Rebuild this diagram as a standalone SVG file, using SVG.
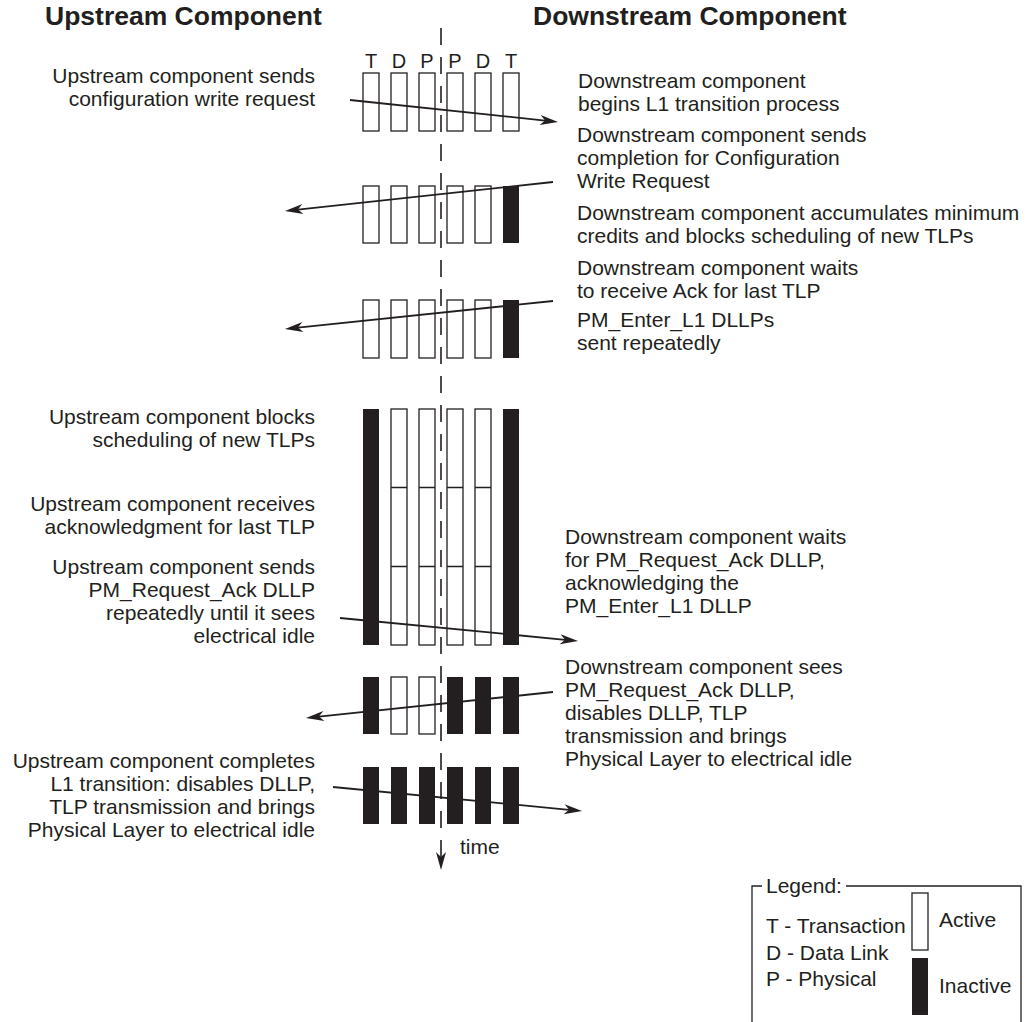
<svg xmlns="http://www.w3.org/2000/svg" width="1029" height="1022" viewBox="0 0 1029 1022">
<style>
text{font-family:"Liberation Sans",Arial,Helvetica,sans-serif;fill:#231f20;font-size:21px}
.title{font-weight:bold;font-size:26.5px}
.end{text-anchor:end}
.mid{text-anchor:middle}
.lbl{font-size:20px}
.act{fill:#fff;stroke:#231f20;stroke-width:1.3}
.ina{fill:#231f20;stroke:none}
.div{stroke:#231f20;stroke-width:1.3}
.conn{fill:none;stroke:#231f20;stroke-width:1.8}
.axis{fill:none;stroke:#231f20;stroke-width:1.6;stroke-dasharray:17 12}
.leg{fill:none;stroke:#231f20;stroke-width:1.3}
</style>
<defs>
<marker id="ah" markerUnits="userSpaceOnUse" markerWidth="20" markerHeight="12" viewBox="0 -6 20 12" refX="5" refY="0" orient="auto" overflow="visible">
<path d="M0,-5 L18,0 L0,5 L5,0 Z" fill="#231f20"/>
</marker>
</defs>
<rect width="1029" height="1022" fill="#fff"/>

<g id="titles">
<text class="title" x="45" y="25">Upstream Component</text>
<text class="title" x="533" y="25">Downstream Component</text>
</g>

<g id="layer-labels">
<text class="lbl mid" x="371" y="68">T</text>
<text class="lbl mid" x="399" y="68">D</text>
<text class="lbl mid" x="427" y="68">P</text>
<text class="lbl mid" x="455" y="68">P</text>
<text class="lbl mid" x="483" y="68">D</text>
<text class="lbl mid" x="511" y="68">T</text>
</g>

<g id="row1">
<rect class="act" x="363" y="73" width="16" height="58"/>
<rect class="act" x="391" y="73" width="16" height="58"/>
<rect class="act" x="419" y="73" width="16" height="58"/>
<rect class="act" x="447" y="73" width="16" height="58"/>
<rect class="act" x="475" y="73" width="16" height="58"/>
<rect class="act" x="503" y="73" width="16" height="58"/>
</g>

<g id="row2">
<rect class="act" x="363" y="186" width="16" height="57"/>
<rect class="act" x="391" y="186" width="16" height="57"/>
<rect class="act" x="419" y="186" width="16" height="57"/>
<rect class="act" x="447" y="186" width="16" height="57"/>
<rect class="act" x="475" y="186" width="16" height="57"/>
<rect class="ina" x="503" y="186" width="16" height="57"/>
</g>

<g id="row3">
<rect class="act" x="363" y="300" width="16" height="58"/>
<rect class="act" x="391" y="300" width="16" height="58"/>
<rect class="act" x="419" y="300" width="16" height="58"/>
<rect class="act" x="447" y="300" width="16" height="58"/>
<rect class="act" x="475" y="300" width="16" height="58"/>
<rect class="ina" x="503" y="300" width="16" height="58"/>
</g>

<g id="row4">
<rect class="ina" x="363" y="409" width="16" height="236"/>
<rect class="act" x="391" y="409" width="16" height="236"/>
<rect class="act" x="419" y="409" width="16" height="236"/>
<rect class="act" x="447" y="409" width="16" height="236"/>
<rect class="act" x="475" y="409" width="16" height="236"/>
<rect class="ina" x="503" y="409" width="16" height="236"/>
<path class="div" d="M391,487.5H407M419,487.5H435M447,487.5H463M475,487.5H491M391,566.5H407M419,566.5H435M447,566.5H463M475,566.5H491"/>
</g>

<g id="row5">
<rect class="ina" x="363" y="677" width="16" height="57"/>
<rect class="act" x="391" y="677" width="16" height="57"/>
<rect class="act" x="419" y="677" width="16" height="57"/>
<rect class="ina" x="447" y="677" width="16" height="57"/>
<rect class="ina" x="475" y="677" width="16" height="57"/>
<rect class="ina" x="503" y="677" width="16" height="57"/>
</g>

<g id="row6">
<rect class="ina" x="363" y="767" width="16" height="57"/>
<rect class="ina" x="391" y="767" width="16" height="57"/>
<rect class="ina" x="419" y="767" width="16" height="57"/>
<rect class="ina" x="447" y="767" width="16" height="57"/>
<rect class="ina" x="475" y="767" width="16" height="57"/>
<rect class="ina" x="503" y="767" width="16" height="57"/>
</g>

<g id="time-axis">
<path class="axis" d="M441,28V857" marker-end="url(#ah)"/>
<text x="460" y="854">time</text>
</g>

<g id="connectors">
<path class="conn" d="M350,100L545.1,120.6" marker-end="url(#ah)"/>
<path class="conn" d="M553,182L297.9,209.6" marker-end="url(#ah)"/>
<path class="conn" d="M553,301L297.9,327.6" marker-end="url(#ah)"/>
<path class="conn" d="M340,618L565.1,639.8" marker-end="url(#ah)"/>
<path class="conn" d="M553,692L318.9,716.6" marker-end="url(#ah)"/>
<path class="conn" d="M333,787L569.1,809.8" marker-end="url(#ah)"/>
</g>

<g id="up-1">
<text class="end" x="315" y="83">Upstream component sends</text>
<text class="end" x="315" y="106">configuration write request</text>
</g>
<g id="up-2">
<text class="end" x="315" y="424">Upstream component blocks</text>
<text class="end" x="315" y="447">scheduling of new TLPs</text>
</g>
<g id="up-3">
<text class="end" x="315" y="511">Upstream component receives</text>
<text class="end" x="315" y="534">acknowledgment for last TLP</text>
</g>
<g id="up-4">
<text class="end" x="315" y="574">Upstream component sends</text>
<text class="end" x="315" y="597">PM_Request_Ack DLLP</text>
<text class="end" x="315" y="620">repeatedly until it sees</text>
<text class="end" x="315" y="643">electrical idle</text>
</g>
<g id="up-5">
<text class="end" x="315" y="768">Upstream component completes</text>
<text class="end" x="315" y="791">L1 transition: disables DLLP,</text>
<text class="end" x="315" y="814">TLP transmission and brings</text>
<text class="end" x="315" y="837">Physical Layer to electrical idle</text>
</g>

<g id="down-1">
<text x="578" y="88">Downstream component</text>
<text x="578" y="111">begins L1 transition process</text>
</g>
<g id="down-2">
<text x="577" y="142">Downstream component sends</text>
<text x="577" y="165">completion for Configuration</text>
<text x="577" y="188">Write Request</text>
</g>
<g id="down-3">
<text x="577" y="220">Downstream component accumulates minimum</text>
<text x="577" y="243">credits and blocks scheduling of new TLPs</text>
</g>
<g id="down-4">
<text x="577" y="275">Downstream component waits</text>
<text x="577" y="298">to receive Ack for last TLP</text>
</g>
<g id="down-5">
<text x="577" y="327">PM_Enter_L1 DLLPs</text>
<text x="577" y="350">sent repeatedly</text>
</g>
<g id="down-6">
<text x="565" y="544">Downstream component waits</text>
<text x="565" y="567">for PM_Request_Ack DLLP,</text>
<text x="565" y="590">acknowledging the</text>
<text x="565" y="613">PM_Enter_L1 DLLP</text>
</g>
<g id="down-7">
<text x="565" y="674">Downstream component sees</text>
<text x="565" y="697">PM_Request_Ack DLLP,</text>
<text x="565" y="720">disables DLLP, TLP</text>
<text x="565" y="743">transmission and brings</text>
<text x="565" y="766">Physical Layer to electrical idle</text>
</g>

<g id="legend">
<path class="leg" d="M752,1022V886H762M846,886H1021V1022"/>
<text x="766" y="893">Legend:</text>
<text x="766" y="933">T - Transaction</text>
<text x="766" y="960">D - Data Link</text>
<text x="766" y="986">P - Physical</text>
<rect class="act" x="912" y="893" width="16" height="57"/>
<rect class="ina" x="912" y="958" width="16" height="57"/>
<text x="939" y="927">Active</text>
<text x="939" y="993">Inactive</text>
</g>
</svg>
